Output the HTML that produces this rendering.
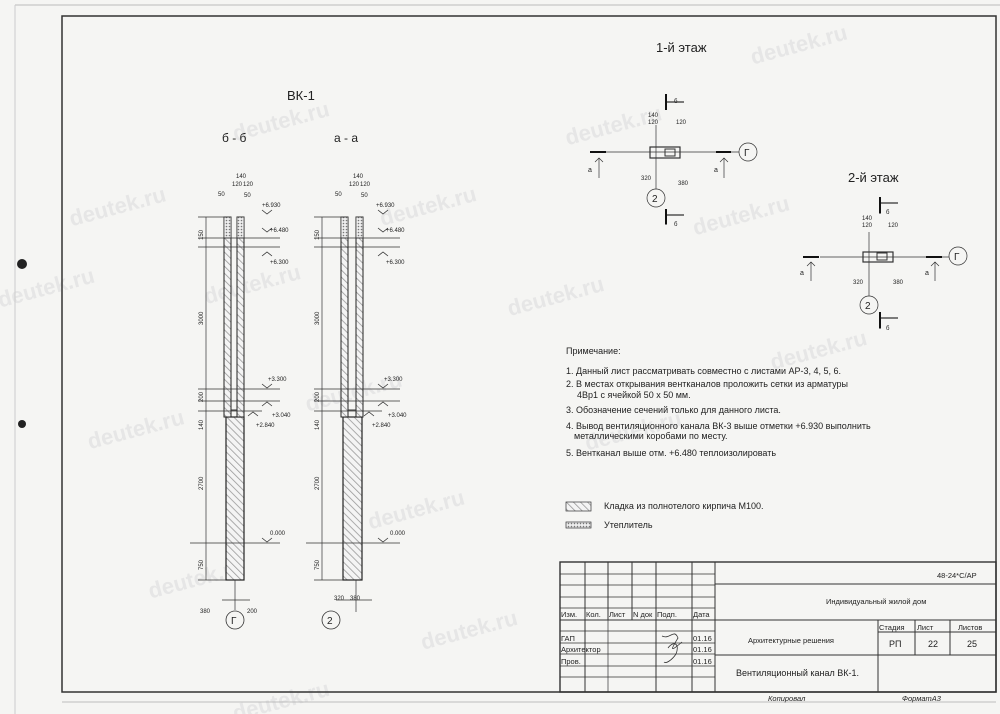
<!DOCTYPE html>
<html><head><meta charset="utf-8"><style>
html,body{margin:0;padding:0;background:#f5f5f3;width:1000px;height:714px;overflow:hidden;}
svg{display:block;overflow:hidden}
text{font-family:"Liberation Sans","DejaVu Sans",sans-serif;fill:#222}
.s{font-size:6px}
.n{font-size:9px;fill:#333}
.w{font-size:22px;fill:#e6e6e6;font-weight:bold}
</style></head><body>
<svg width="1000" height="714" viewBox="0 0 1000 714" xmlns="http://www.w3.org/2000/svg">
<defs>
<clipPath id="cp"><rect width="1000" height="714"/></clipPath>
<pattern id="h" width="5" height="5" patternUnits="userSpaceOnUse" patternTransform="rotate(-45)">
<rect width="5" height="5" fill="#f4f4f4"/><line x1="0" y1="0" x2="0" y2="5" stroke="#999" stroke-width="1.6"/></pattern>
<pattern id="ins" width="3" height="3" patternUnits="userSpaceOnUse"><rect width="3" height="3" fill="#eee"/><circle cx="1.5" cy="1.5" r="0.8" fill="#777"/></pattern>
</defs>
<rect width="1000" height="714" fill="#f5f5f3"/>
<g clip-path="url(#cp)">
<g transform="rotate(-15 500 357)">
<text class="w" x="120" y="120">deutek.ru</text><text class="w" x="300" y="80">deutek.ru</text>
<text class="w" x="30" y="180">deutek.ru</text><text class="w" x="230" y="230">deutek.ru</text>
<text class="w" x="420" y="200">deutek.ru</text><text class="w" x="620" y="170">deutek.ru</text>
<text class="w" x="820" y="140">deutek.ru</text><text class="w" x="80" y="340">deutek.ru</text>
<text class="w" x="300" y="360">deutek.ru</text><text class="w" x="520" y="320">deutek.ru</text>
<text class="w" x="720" y="290">deutek.ru</text><text class="w" x="100" y="500">deutek.ru</text>
<text class="w" x="330" y="490">deutek.ru</text><text class="w" x="560" y="470">deutek.ru</text>
<text class="w" x="760" y="440">deutek.ru</text><text class="w" x="150" y="640">deutek.ru</text>
<text class="w" x="350" y="620">deutek.ru</text>
</g>
</g>
<line x1="15" y1="5" x2="1000" y2="5" stroke="#bbb" stroke-width="1"/>
<line x1="15" y1="5" x2="15" y2="714" stroke="#ccc" stroke-width="1"/>
<rect x="62" y="16" width="934" height="676" fill="none" stroke="#333" stroke-width="1.5"/>
<line x1="62" y1="702" x2="996" y2="702" stroke="#aaa" stroke-width="0.8"/>
<circle cx="22" cy="264" r="5" fill="#222"/><circle cx="22" cy="424" r="4" fill="#222"/>

<text x="287" y="100" font-size="13">ВК-1</text>
<text x="222" y="142" font-size="12">б - б</text>
<text x="334" y="142" font-size="12">а - а</text>

<g stroke="#333" stroke-width="0.7" fill="none">
<rect x="226" y="417" width="18" height="163" fill="url(#h)" stroke="#222" stroke-width="1.2"/>
<rect x="224" y="217" width="7" height="200" fill="url(#h)" stroke="#222" stroke-width="1"/>
<rect x="237" y="217" width="7" height="200" fill="url(#h)" stroke="#222" stroke-width="1"/>
<rect x="224" y="217" width="7" height="21" fill="url(#ins)"/>
<rect x="237" y="217" width="7" height="21" fill="url(#ins)"/>
<line x1="231" y1="410" x2="237" y2="410" stroke-width="1"/>
<rect x="343" y="417" width="19" height="163" fill="url(#h)" stroke="#222" stroke-width="1.2"/>
<rect x="341" y="217" width="7" height="200" fill="url(#h)" stroke="#222" stroke-width="1"/>
<rect x="356" y="217" width="7" height="200" fill="url(#h)" stroke="#222" stroke-width="1"/>
<rect x="341" y="217" width="7" height="21" fill="url(#ins)"/>
<rect x="356" y="217" width="7" height="21" fill="url(#ins)"/>
<line x1="348" y1="410" x2="356" y2="410" stroke-width="1"/>
<line x1="206" y1="217" x2="206" y2="580"/><line x1="322" y1="217" x2="322" y2="580"/>
<path d="M198 217H228M198 238H280M198 247H280M198 389H280M198 401H280M198 411H262M190 543H280M198 580H226"/>
<path d="M314 217H345M314 238H400M314 247H400M314 389H400M314 401H400M314 411H382M306 543H400M314 580H343"/>
<path d="M235 580V600M235 600V610M222 600H250M356 580V612M336 600H372"/>
</g>
<g class="s">
<text x="262" y="207">+6.930</text><text x="270" y="232">+6.480</text><text x="270" y="264">+6.300</text>
<text x="268" y="381">+3.300</text><text x="272" y="417">+3.040</text><text x="256" y="427">+2.840</text>
<text x="270" y="535">0.000</text>
<text x="376" y="207">+6.930</text><text x="386" y="232">+6.480</text><text x="386" y="264">+6.300</text>
<text x="384" y="381">+3.300</text><text x="388" y="417">+3.040</text><text x="372" y="427">+2.840</text>
<text x="390" y="535">0.000</text>
<text x="236" y="178">140</text><text x="232" y="186">120</text><text x="243" y="186">120</text><text x="218" y="196">50</text><text x="244" y="197">50</text>
<text x="353" y="178">140</text><text x="349" y="186">120</text><text x="360" y="186">120</text><text x="335" y="196">50</text><text x="361" y="197">50</text>
<text x="200" y="613">380</text><text x="247" y="613">200</text><text x="334" y="600">320</text><text x="350" y="600">380</text>
</g>
<g class="s" fill="#222">
<text transform="translate(203 325) rotate(-90)">3000</text><text transform="translate(319 325) rotate(-90)">3000</text>
<text transform="translate(203 490) rotate(-90)">2700</text><text transform="translate(319 490) rotate(-90)">2700</text>
<text transform="translate(203 570) rotate(-90)">750</text><text transform="translate(319 570) rotate(-90)">750</text>
<text transform="translate(203 402) rotate(-90)">200</text><text transform="translate(319 402) rotate(-90)">200</text>
<text transform="translate(203 430) rotate(-90)">140</text><text transform="translate(319 430) rotate(-90)">140</text>
<text transform="translate(203 240) rotate(-90)">150</text><text transform="translate(319 240) rotate(-90)">150</text>
</g>
<g fill="none" stroke="#333" stroke-width="0.8">
<path d="M262 210l5 4l5-4M262 228l5 4l5-4M262 256l5-4l5 4M262 384l5 4l5-4M262 406l5-4l5 4M248 416l5-4l5 4M262 538l5 4l5-4"/>
<path d="M378 210l5 4l5-4M378 228l5 4l5-4M378 256l5-4l5 4M378 384l5 4l5-4M378 406l5-4l5 4M364 416l5-4l5 4M378 538l5 4l5-4"/>
<circle cx="235" cy="620" r="9" fill="#f5f5f3"/><circle cx="331" cy="620" r="9" fill="#f5f5f3"/>
</g>
<text x="231" y="624" font-size="10">Г</text><text x="327" y="624" font-size="10">2</text>

<text x="656" y="52" font-size="13">1-й этаж</text>
<g stroke="#333" stroke-width="0.7" fill="none">
<line x1="605" y1="152" x2="739" y2="152"/>
<line x1="656" y1="125" x2="656" y2="189"/>
<rect x="650" y="147" width="30" height="11" stroke-width="1.2"/>
<rect x="665" y="149" width="10" height="7" stroke-width="1"/>
<path d="M666 95V110M667 102H684M666 210V225M667 215H684" stroke-width="1.2"/>
<path d="M599 158V178M595 162l4-4l4 4M724 158V178M720 162l4-4l4 4"/>
<circle cx="748" cy="152" r="9" fill="#f5f5f3"/><circle cx="656" cy="198" r="9" fill="#f5f5f3"/>
</g>
<path d="M590 152H606M716 152H731" stroke="#111" stroke-width="2"/>
<path d="M666 94V110M666 209V224" stroke="#111" stroke-width="2"/>
<text x="744" y="156" font-size="10">Г</text><text x="652" y="202" font-size="10">2</text>
<g class="s"><text x="674" y="103">б</text><text x="674" y="226">б</text>
<text x="648" y="117">140</text><text x="648" y="124">120</text><text x="676" y="124">120</text>
<text x="588" y="172" font-size="7">а</text><text x="714" y="172" font-size="7">а</text>
<text x="641" y="180">320</text><text x="678" y="185">380</text></g>

<text x="848" y="182" font-size="13">2-й этаж</text>
<g stroke="#333" stroke-width="0.7" fill="none">
<line x1="820" y1="257" x2="949" y2="257"/>
<line x1="869" y1="232" x2="869" y2="296"/>
<rect x="863" y="252" width="30" height="10" stroke-width="1.2"/>
<rect x="877" y="253" width="10" height="7" stroke-width="1"/>
<path d="M880 198V214M881 203H898M880 313V329M881 318H898" stroke-width="1.2"/>
<path d="M811 262V281M807 266l4-4l4 4M935 262V281M931 266l4-4l4 4"/>
<circle cx="958" cy="256" r="9" fill="#f5f5f3"/><circle cx="869" cy="305" r="9" fill="#f5f5f3"/>
</g>
<path d="M803 257H819M926 257H942" stroke="#111" stroke-width="2"/>
<path d="M880 197V213M880 312V328" stroke="#111" stroke-width="2"/>
<text x="954" y="260" font-size="10">Г</text><text x="865" y="309" font-size="10">2</text>
<g class="s"><text x="886" y="214">б</text><text x="886" y="330">б</text>
<text x="862" y="220">140</text><text x="862" y="227">120</text><text x="888" y="227">120</text>
<text x="800" y="275" font-size="7">а</text><text x="925" y="275" font-size="7">а</text>
<text x="853" y="284">320</text><text x="893" y="284">380</text></g>

<g class="n">
<text x="566" y="354">Примечание:</text>
<text x="566" y="374">1. Данный лист рассматривать совместно с листами АР-3, 4, 5, 6.</text>
<text x="566" y="387">2. В местах открывания вентканалов проложить сетки из арматуры</text>
<text x="577" y="398">4Вр1 с ячейкой 50 х 50 мм.</text>
<text x="566" y="413">3. Обозначение сечений только для данного листа.</text>
<text x="566" y="429">4. Вывод вентиляционного канала ВК-3 выше отметки +6.930 выполнить</text>
<text x="574" y="439">металлическими коробами по месту.</text>
<text x="566" y="456">5. Вентканал выше отм. +6.480 теплоизолировать</text>
<text x="604" y="509">Кладка из полнотелого кирпича М100.</text>
<text x="604" y="528">Утеплитель</text>
</g>
<rect x="566" y="502" width="25" height="9" fill="url(#h)" stroke="#333" stroke-width="0.7"/>
<rect x="566" y="522" width="25" height="6" fill="url(#ins)" stroke="#333" stroke-width="0.7"/>

<g stroke="#333" stroke-width="1" fill="none">
<rect x="560" y="562" width="436" height="130" stroke-width="1.4"/>
<path d="M585 562V692M608 562V620M632 562V620M656 562V692M692 562V692M715 562V692"/>
<path d="M608 620V692" stroke-width="0.7"/>
<path d="M560 574H715M560 585H715M560 597H715M560 608H715M560 620H715M560 631H715M560 643H715M560 654H715M560 666H715M560 677H715" stroke-width="0.7"/>
<path d="M560 620H996M715 584H996M715 655H996M878 620V655M915 620V655M950 620V655M878 632H996"/>
<path d="M878 655V692"/>
</g>
<g font-size="7.5" fill="#333">
<text x="937" y="578">48-24*С/АР</text>
<text x="826" y="604">Индивидуальный жилой дом</text>
<text x="561" y="617">Изм.</text><text x="586" y="617">Кол.</text><text x="609" y="617">Лист</text><text x="633" y="617">N док</text><text x="657" y="617">Подп.</text><text x="693" y="617">Дата</text>
<text x="561" y="641">ГАП</text><text x="561" y="652">Архитектор</text><text x="561" y="664">Пров.</text>
<text x="693" y="641">01.16</text><text x="693" y="652">01.16</text><text x="693" y="664">01.16</text>
<text x="748" y="643">Архитектурные решения</text>
<text x="879" y="630">Стадия</text><text x="917" y="630">Лист</text><text x="958" y="630">Листов</text>
<text x="889" y="647" font-size="9">РП</text><text x="928" y="647" font-size="9">22</text><text x="967" y="647" font-size="9">25</text>
<text x="736" y="676" font-size="9">Вентиляционный канал ВК-1.</text>
<text x="768" y="701" font-style="italic">Копировал</text><text x="902" y="701" font-style="italic">ФорматА3</text>
</g>
<path d="M662 636c8 4 12-8 16 2c-6 10-10 16 4 4M668 648c6-8 12-4 8 6c-4 6-10 10-12 8" stroke="#333" stroke-width="0.8" fill="none"/>
</svg>
</body></html>
